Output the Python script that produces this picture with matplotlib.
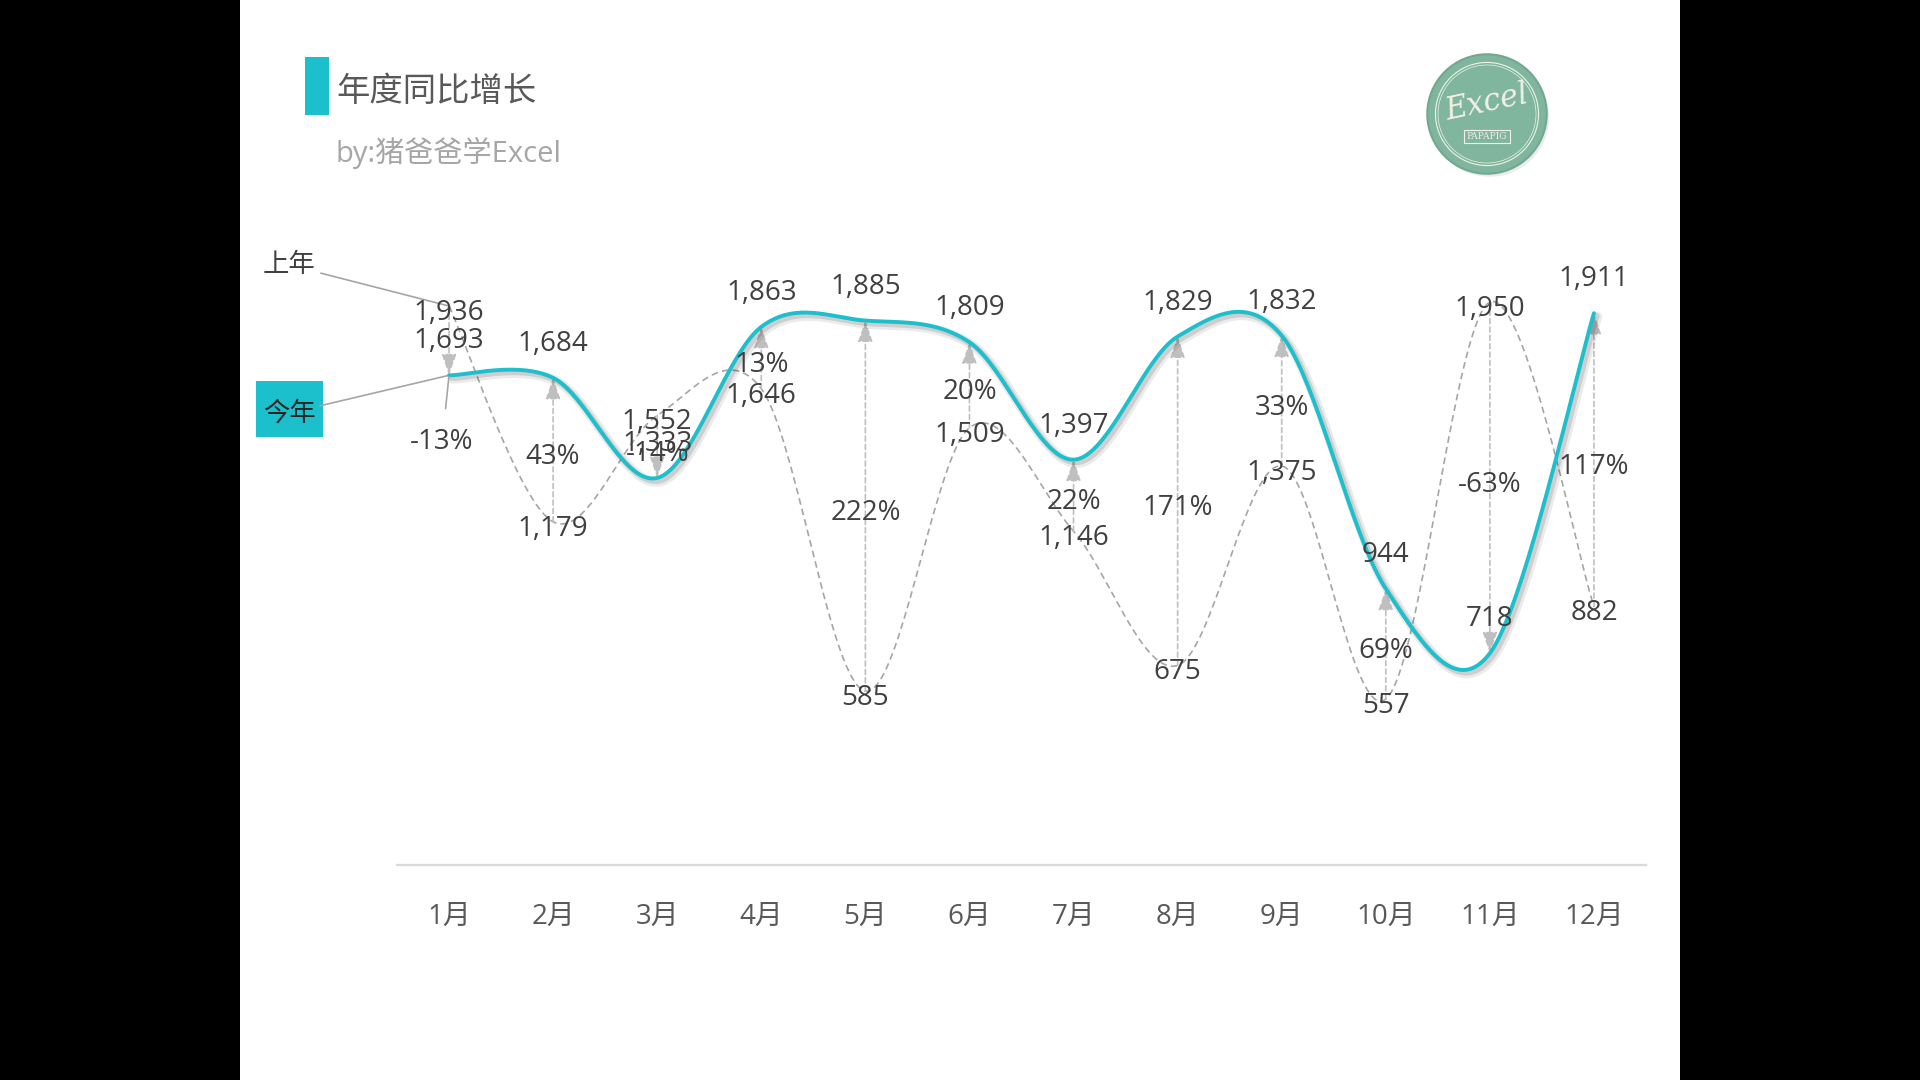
import matplotlib
matplotlib.use('Agg')
import numpy as np
import matplotlib.pyplot as plt
from matplotlib.patches import Rectangle, Circle
import matplotlib.patheffects as pe

plt.rcParams['font.family'] = ['Open Sans', 'Noto Sans CJK SC', 'DejaVu Sans']
CJK = ['Noto Sans CJK SC', 'DejaVu Sans']

# ---- data ----
months = ['1月', '2月', '3月', '4月', '5月', '6月', '7月', '8月', '9月', '10月', '11月', '12月']
this_year = [1693, 1684, 1333, 1863, 1885, 1809, 1397, 1829, 1832, 944, 718, 1911]
last_year = [1936, 1179, 1552, 1646, 585, 1509, 1146, 675, 1375, 557, 1950, 882]
title = '年度同比增长'
subtitle = 'by:猪爸爸学Excel'
name_this = '今年'
name_last = '上年'

CYAN = '#1BC0CC'
DARK = '#404040'

W, H = 1920, 1080
fig = plt.figure(figsize=(19.2, 10.8), dpi=100, facecolor='black')


def fx(px):
    return px / W


def fy(py):
    return 1 - py / H


# white canvas
fig.patches.append(Rectangle((fx(240), 0), fx(1440), 1, transform=fig.transFigure,
                             facecolor='white', edgecolor='none', zorder=-10))

# title
fig.patches.append(Rectangle((fx(305), fy(115)), fx(24), 58 / H, transform=fig.transFigure,
                             facecolor=CYAN, edgecolor='none', zorder=-5))
fig.text(fx(336), fy(92), title, fontsize=24, color='#595959', va='center', ha='left', family=CJK)
fig.text(fx(336), fy(153), subtitle, fontsize=21, color='#A6A6A6', va='center', ha='left')


def smooth(vals, n=40):
    y = np.asarray(vals, float)
    x = np.arange(len(y), dtype=float)
    py = np.concatenate([[y[0]], y, [y[-1]]])
    pxs = np.concatenate([[x[0]], x, [x[-1]]])
    t = np.linspace(0, 1, n)
    xs, ys = [], []
    for i in range(len(y) - 1):
        x0, x1, x2, x3 = pxs[i:i + 4]
        y0, y1, y2, y3 = py[i:i + 4]
        bx1, by1 = x1 + (x2 - x0) / 6, y1 + (y2 - y0) / 6
        bx2, by2 = x2 - (x3 - x1) / 6, y2 - (y3 - y1) / 6
        a, b, c, d = (1 - t) ** 3, 3 * (1 - t) ** 2 * t, 3 * (1 - t) * t ** 2, t ** 3
        xs.append(a * x1 + b * bx1 + c * bx2 + d * x2)
        ys.append(a * y1 + b * by1 + c * by2 + d * y2)
    return np.concatenate(xs), np.concatenate(ys)


# legend box for "今年" (behind axes)
fig.patches.append(Rectangle((fx(256), fy(437)), fx(67), 56 / H, transform=fig.transFigure,
                             facecolor=CYAN, edgecolor='none', zorder=-5))

ax = fig.add_axes([fx(397), fy(865), fx(1249), 665 / H])
ax.patch.set_visible(False)
ax.set_xlim(-0.5, 11.5)
ax.set_ylim(-25, 2308)
for s in ['top', 'left', 'right']:
    ax.spines[s].set_visible(False)
ax.spines['bottom'].set_color('#D9D9D9')
ax.spines['bottom'].set_linewidth(1.6)
ax.set_yticks([])
xpos = np.arange(len(months))
ax.set_xticks(xpos)
ax.set_xticklabels(months, fontsize=20, color='#595959')
ax.tick_params(axis='x', length=0, pad=27)

# last year dashed smooth line
lx, ly = smooth(last_year)
ax.plot(lx, ly, color='#A6A6A6', lw=1.2, linestyle=(0, (4, 2.5)), zorder=2)

# arrows from last year to this year
for i in range(len(months)):
    ax.annotate('', xy=(xpos[i], this_year[i]), xytext=(xpos[i], last_year[i]),
                arrowprops=dict(arrowstyle='-|>,head_length=1.3,head_width=0.45',
                                color='#BFBFBF', lw=1.2, linestyle=(0, (3, 2)),
                                shrinkA=0, shrinkB=0, mutation_scale=10),
                zorder=3)

# this year cyan smooth line with shadow
tx, ty = smooth(this_year)
ax.plot(tx, ty, color=CYAN, lw=2.8, zorder=4, solid_capstyle='round',
        path_effects=[pe.SimpleLineShadow(offset=(2.5, -2.5), shadow_color='black', alpha=0.08, linewidth=7),
                      pe.SimpleLineShadow(offset=(2, -2), shadow_color='black', alpha=0.12, linewidth=4),
                      pe.Normal()])

# labels
LBL = 20
for i in range(len(months)):
    ax.annotate(f'{this_year[i]:,}', xy=(xpos[i], this_year[i]), xytext=(0, 24.5),
                textcoords='offset points', ha='center', va='center', fontsize=LBL,
                color=DARK, zorder=6)
    ax.annotate(f'{last_year[i]:,}', xy=(xpos[i], last_year[i]), xytext=(0, -5),
                textcoords='offset points', ha='center', va='center', fontsize=LBL,
                color=DARK, zorder=6)
    pct = f'{round((this_year[i] / last_year[i] - 1) * 100):.0f}%'
    mid = (this_year[i] + last_year[i]) / 2
    if i == 0:
        ax.annotate(pct, xy=(xpos[i], this_year[i]), xytext=(-5, -48),
                    textcoords='offset points', ha='center', va='center', fontsize=LBL,
                    color=DARK, zorder=6,
                    arrowprops=dict(arrowstyle='-', color='#A6A6A6', lw=1.2,
                                    shrinkA=12, shrinkB=1))
    else:
        ax.annotate(pct, xy=(xpos[i], mid), xytext=(0, -5),
                    textcoords='offset points', ha='center', va='center', fontsize=LBL,
                    color=DARK, zorder=6)

# series name callouts
ax.annotate(name_last, xy=(xpos[0], last_year[0]), xytext=(fx(289), fy(265)),
            textcoords='figure fraction', ha='center', va='center', fontsize=19,
            color=DARK, annotation_clip=False, family=CJK,
            arrowprops=dict(arrowstyle='-', color='#A6A6A6', lw=1.2, shrinkA=2, shrinkB=0))
ax.annotate(name_this, xy=(xpos[0], this_year[0]), xytext=(fx(289.5), fy(413)),
            textcoords='figure fraction', ha='center', va='center', fontsize=19,
            color='#262626', annotation_clip=False, family=CJK,
            arrowprops=dict(arrowstyle='-', color='#A6A6A6', lw=1.2, shrinkA=1, shrinkB=0))

# logo
lax = fig.add_axes([fx(1487 - 66), fy(114 + 66), fx(132), 132 / H])
lax.set_xlim(-1.05, 1.05)
lax.set_ylim(-1.05, 1.05)
lax.set_aspect('equal')
lax.axis('off')
lax.add_patch(Circle((0.04, -0.05), 0.95, facecolor='black', alpha=0.08, edgecolor='none'))
lax.add_patch(Circle((0, 0), 0.95, facecolor='#80B69D', edgecolor='#72A88F', lw=1.5))
lax.add_patch(Circle((0, 0), 0.82, facecolor='none', edgecolor='#EEF3EA', lw=0.8))
lax.add_patch(Circle((0, 0), 0.78, facecolor='none', edgecolor='#EEF3EA', lw=0.5))
lax.text(0, 0.17, 'Excel', fontsize=22, color='#F2F0E6', ha='center', va='center',
         family='DejaVu Serif', style='italic', rotation=12)
lax.text(0, -0.36, 'PAPAPIG', fontsize=6.5, color='#F2F0E6', ha='center', va='center',
         family='DejaVu Serif',
         bbox=dict(boxstyle='square,pad=0.25', facecolor='none', edgecolor='#F2F0E6', lw=0.8))

fig.savefig('out.png', dpi=100, facecolor='black')
